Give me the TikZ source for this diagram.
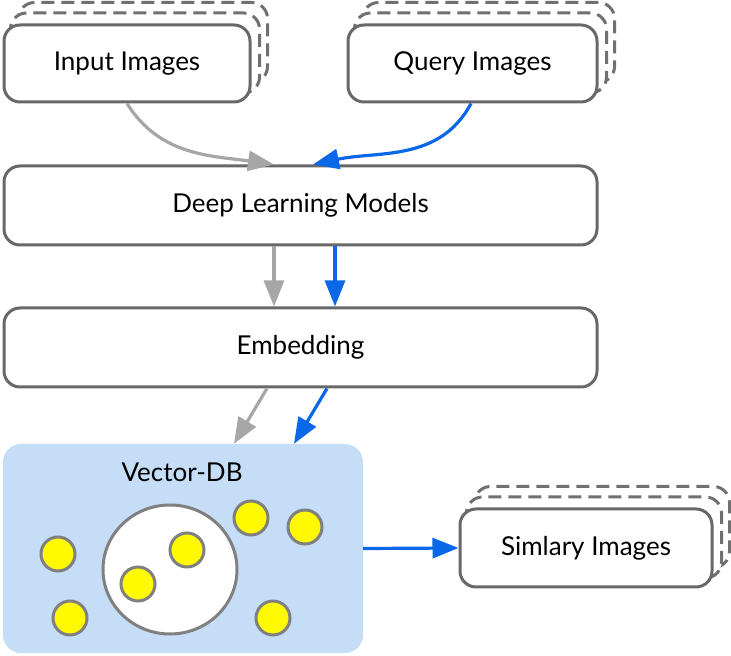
\documentclass[tikz,border=0pt]{standalone}
\usepackage{fontspec}
\setmainfont{Lato}
\usepackage{xcolor}
\definecolor{box_gray}{RGB}{104, 104, 104}
\definecolor{card_gray}{RGB}{112, 112, 112}
\definecolor{flow_gray}{RGB}{166, 166, 166}
\definecolor{flow_blue}{RGB}{10, 104, 232}
\definecolor{db_blue}{RGB}{197, 221, 246}
\definecolor{dot_yellow}{RGB}{255, 250, 0}
\definecolor{rim_gray}{RGB}{128, 128, 128}
\usepackage{tikz}
\usetikzlibrary{arrows.meta, positioning, calc, backgrounds}

\begin{document}
\begin{tikzpicture}[x=1pt, y=1pt, font=\fontsize{26}{30}\selectfont,
    box/.style={draw=box_gray, line width=3pt, rounded corners=16pt, fill=white, align=center},
    card/.style={draw=card_gray, line width=3pt, dash pattern=on 13pt off 7pt, rounded corners=16pt, fill=white},
    flow/.style={line width=3.2pt, -{Triangle[length=26pt, width=20pt]}},
    dot/.style={draw=rim_gray, line width=3pt, fill=dot_yellow}]
  \useasboundingbox (0,0) rectangle (731,656);

  % sources
  \node[box, minimum width=246pt, minimum height=77pt] (input) at (127,592.5) {Input Images};
  \node[box, minimum width=249pt, minimum height=77pt] (query) at (472.5,592.5) {Query Images};

  % pipeline
  \node[box, minimum width=593pt, minimum height=79pt] (models) at (300.5,450.5) {Deep Learning Models};
  \node[box, minimum width=593pt, minimum height=79pt] (embed) at (300.5,308.5) {Embedding};

  % vector store
  \node[fill=db_blue, rounded corners=18pt, minimum width=360pt, minimum height=209pt] (db) at (183,107.5) {};
  \node (dblabel) at (182,184) {Vector-DB};
  \draw[draw=rim_gray, line width=3pt, fill=white] (170,86.5) ellipse (67 and 64.5);
  \foreach \px/\py in {58/102, 70/38, 187/106, 138/72, 251/138, 305/129, 273/38}
    \draw[dot] (\px,\py) circle (17);

  % result
  \node[box, minimum width=252pt, minimum height=78pt] (similar) at (586,108) {Simlary Images};

  % stacked copies
  \begin{scope}[on background layer]
    \foreach \n in {input, query, similar} {
      \draw[card] ([shift={(16,21)}]\n.south west) rectangle ([shift={(16,21)}]\n.north east);
      \draw[card] ([shift={(8,10.5)}]\n.south west) rectangle ([shift={(8,10.5)}]\n.north east);
    }
  \end{scope}

  % connectors
  \draw[flow, flow_gray] (input.south) to[out=-58, in=172] ([xshift=-26.5pt]models.north);
  \draw[flow, flow_blue] ([xshift=-1.5pt]query.south) to[out=-118, in=12] ([xshift=12.5pt]models.north);
  \draw[flow, flow_gray] ([xshift=-26.5pt]models.south) -- ([xshift=-26.5pt]embed.north);
  \draw[flow, flow_blue] ([xshift=34.5pt]models.south) -- ([xshift=34.5pt]embed.north);
  \draw[flow, flow_gray] ([xshift=-33.5pt]embed.south) -- ([xshift=51pt]db.north);
  \draw[flow, flow_blue] ([xshift=26.5pt]embed.south) -- ([xshift=111pt]db.north);
  \draw[flow, flow_blue] (db.east) -- (similar.west);
\end{tikzpicture}
\end{document}
